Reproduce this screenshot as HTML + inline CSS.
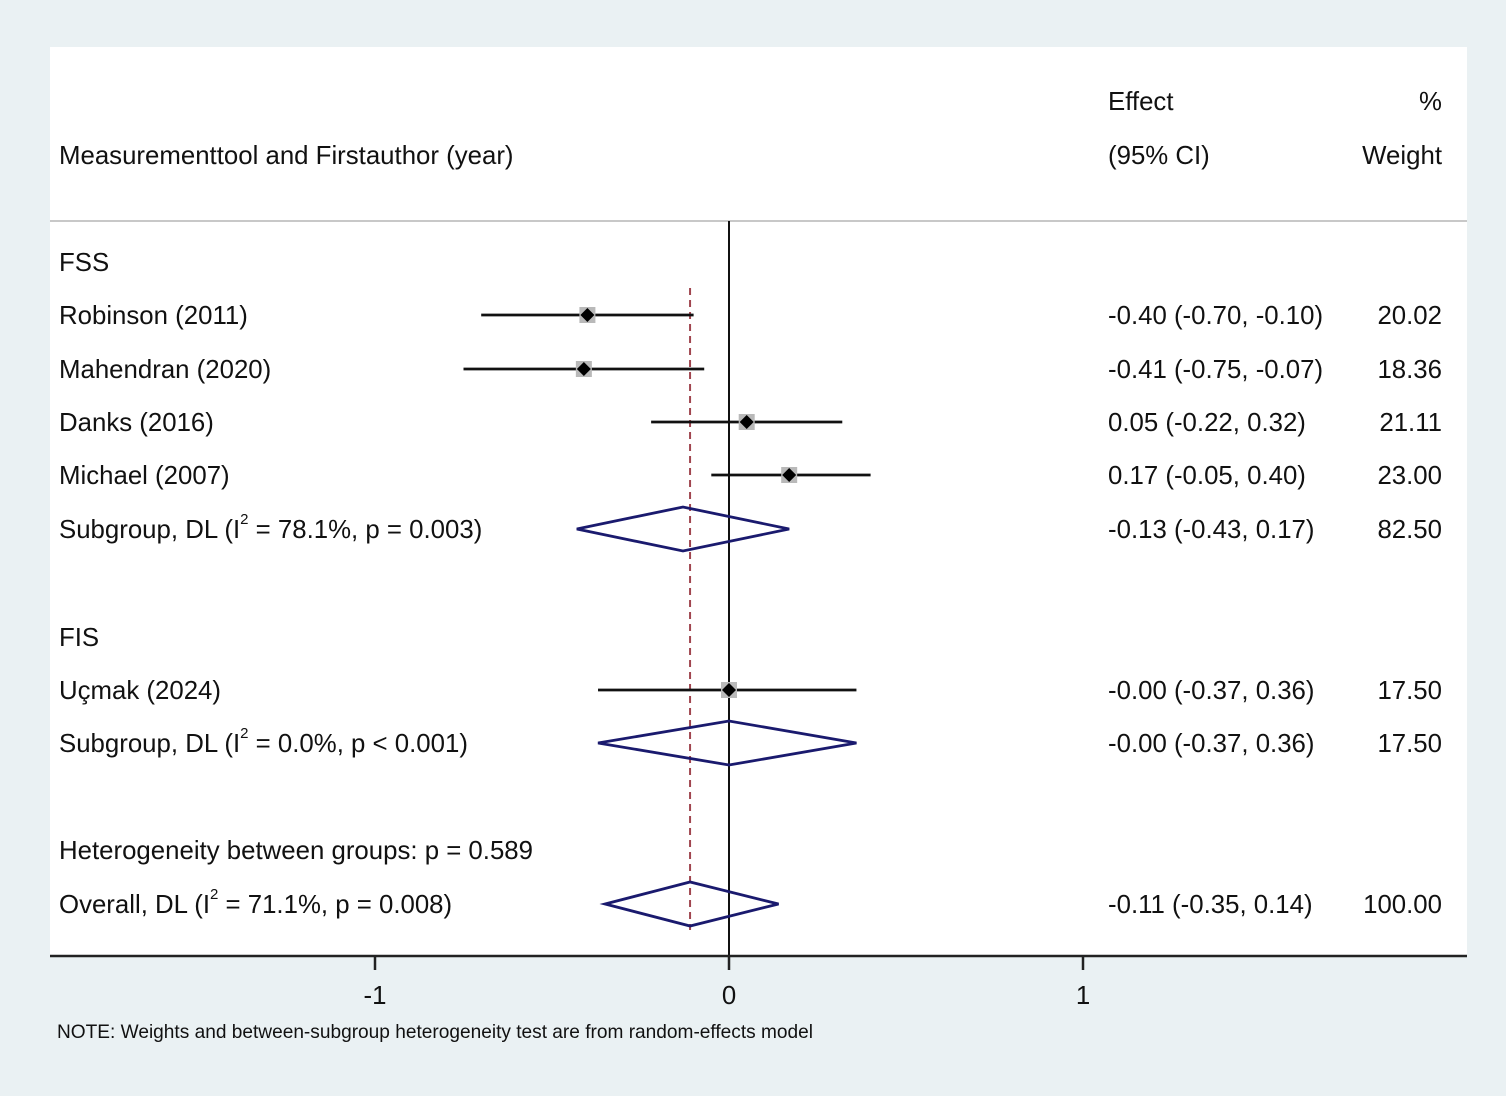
<!DOCTYPE html>
<html><head><meta charset="utf-8"><style>
html,body{margin:0;padding:0;background:#eaf1f3;}
svg{display:block;font-family:"Liberation Sans",Arial,sans-serif;}
</style></head><body>
<svg id="c" width="1506" height="1096" viewBox="0 0 1506 1096">
<rect x="0" y="0" width="1506" height="1096" fill="#eaf1f3"/>
<rect x="50" y="47" width="1417" height="909" fill="#ffffff"/>
<g font-size="25.8" fill="#111">
<text x="1108" y="110">Effect</text>
<text x="1442" y="110" text-anchor="end">%</text>
<text x="59" y="164">Measurementtool and Firstauthor (year)</text>
<text x="1108" y="164">(95% CI)</text>
<text x="1442" y="164" text-anchor="end">Weight</text>
</g>
<line x1="50" y1="221" x2="1467" y2="221" stroke="#c8c8c8" stroke-width="2"/>
<g id="rows" font-size="25.8" fill="#111"></g>
<g id="marks"></g>
<line x1="50" y1="956" x2="1467" y2="956" stroke="#222" stroke-width="2.5"/>
<g id="axis" font-size="25.8" fill="#111"></g>
<text x="57" y="1038" font-size="19.1" fill="#111">NOTE: Weights and between-subgroup heterogeneity test are from random-effects model</text>
</svg>
<script>
const studyLabels=["Robinson (2011)","Mahendran (2020)","Danks (2016)","Michael (2007)","Uçmak (2024)"];
const studyY=[315,369,422,475,690];
const studyEst=[-0.40,-0.41,0.05,0.17,-0.00];
const studyLo=[-0.70,-0.75,-0.22,-0.05,-0.37];
const studyHi=[-0.10,-0.07,0.32,0.40,0.36];
const studyCI=["-0.40 (-0.70, -0.10)","-0.41 (-0.75, -0.07)","0.05 (-0.22, 0.32)","0.17 (-0.05, 0.40)","-0.00 (-0.37, 0.36)"];
const studyW=["20.02","18.36","21.11","23.00","17.50"];
const poolLabels=[["Subgroup, DL (I","2"," = 78.1%, p = 0.003)"],["Subgroup, DL (I","2"," = 0.0%, p < 0.001)"],["Overall, DL (I","2"," = 71.1%, p = 0.008)"]];
const poolY=[529,743,904];
const poolEst=[-0.13,-0.00,-0.11];
const poolLo=[-0.43,-0.37,-0.35];
const poolHi=[0.17,0.36,0.14];
const poolCI=["-0.13 (-0.43, 0.17)","-0.00 (-0.37, 0.36)","-0.11 (-0.35, 0.14)"];
const poolW=["82.50","17.50","100.00"];
const overallEffect=-0.11;
const ticks=[-1,0,1];
const tickLabels=["-1","0","1"];

const NS="http://www.w3.org/2000/svg";
const X=v=>729+354*v;
function mk(tag,attrs,parent,text){const e=document.createElementNS(NS,tag);for(const k in attrs)e.setAttribute(k,attrs[k]);if(text!==undefined)e.textContent=text;parent.appendChild(e);return e;}
const rows=document.getElementById('rows'),marks=document.getElementById('marks'),axis=document.getElementById('axis');

let t;
t=mk('text',{x:59,y:271},rows,'FSS');


t=mk('text',{x:59,y:646},rows,'FIS');


t=mk('text',{x:59,y:859},rows,'Heterogeneity between groups: p = 0.589');



let l=mk('line',{x1:X(0),y1:221,x2:X(0),y2:956,stroke:'#111','stroke-width':2},marks);


l=mk('line',{x1:X(overallEffect),y1:288,x2:X(overallEffect),y2:930,stroke:'#a0454f','stroke-width':2,'stroke-dasharray':'7,5'},marks);



studyLabels.forEach((s,i)=>{
  const y=studyY[i];
  let e=mk('text',{x:59,y:y+9},rows,s);
  
  
  e=mk('text',{x:1108,y:y+9},rows,studyCI[i]);
  
  
  e=mk('text',{x:1442,y:y+9,'text-anchor':'end'},rows,studyW[i]);
  
  
  e=mk('line',{x1:X(studyLo[i]),y1:y,x2:X(studyHi[i]),y2:y,stroke:'#111','stroke-width':2.8},marks);
  
  
  const cx=X(studyEst[i]);
  e=mk('rect',{x:cx-8,y:y-8,width:16,height:16,fill:'#b9b9b9'},marks);
  
  
  e=mk('polygon',{points:`${cx},${y-7} ${cx+7},${y} ${cx},${y+7} ${cx-7},${y}`,fill:'#000'},marks);
  
  
});

poolLabels.forEach((p,i)=>{
  const y=poolY[i];
  let e=mk('text',{x:59,y:y+9},rows);
  
  
  mk('tspan',{},e,p[0]);
  mk('tspan',{dy:-14,'font-size':15},e,p[1]);
  mk('tspan',{dy:14},e,p[2]);
  e=mk('text',{x:1108,y:y+9},rows,poolCI[i]);
  
  
  e=mk('text',{x:1442,y:y+9,'text-anchor':'end'},rows,poolW[i]);
  
  
  const a=X(poolLo[i]),b=X(poolHi[i]),c=X(poolEst[i]);
  e=mk('polygon',{points:`${a},${y} ${c},${y-22} ${b},${y} ${c},${y+22}`,fill:'none',stroke:'#1a1a6e','stroke-width':2.8},marks);
  
  
});

ticks.forEach((v,i)=>{
  let e=mk('line',{x1:X(v),y1:956,x2:X(v),y2:970,stroke:'#222','stroke-width':2.5},axis);
  
  
  e=mk('text',{x:X(v),y:1004,'text-anchor':'middle'},axis,tickLabels[i]);
  
  
});
</script>
</body></html>
